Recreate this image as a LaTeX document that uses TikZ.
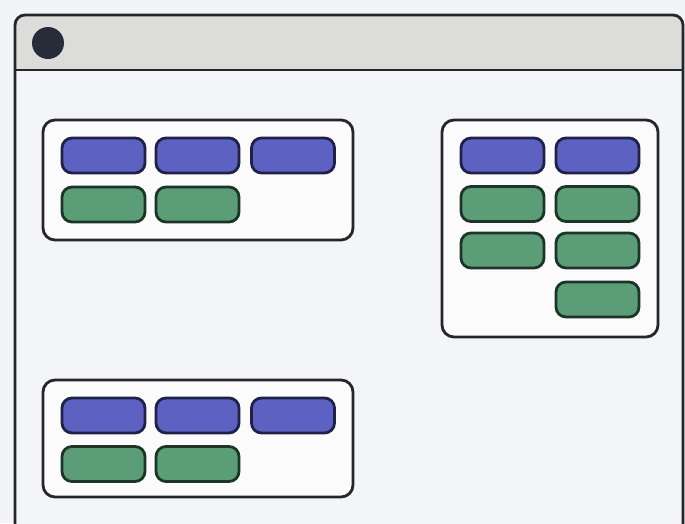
\documentclass[tikz,border=0pt]{standalone}
\usepackage{tikz}

\definecolor{pageback}{HTML}{F3F4F7}
\definecolor{winback}{HTML}{F4F5F8}
\definecolor{titlefill}{HTML}{DCDCDA}
\definecolor{frameline}{HTML}{24262A}
\definecolor{dotfill}{HTML}{272C38}
\definecolor{bluefill}{HTML}{5D61C2}
\definecolor{blueline}{HTML}{1F2148}
\definecolor{greenfill}{HTML}{5B9D77}
\definecolor{greenline}{HTML}{1D3428}

\tikzset{
  group/.style={draw=frameline,line width=2.8pt,fill=white!60!winback,
    rounded corners=12pt,inner sep=0pt},
  bluepill/.style={draw=blueline,line width=2.8pt,fill=bluefill,
    rounded corners=10pt,minimum width=83pt,minimum height=35pt,inner sep=0pt},
  greenpill/.style={bluepill,draw=greenline,fill=greenfill}
}

\begin{document}
\begin{tikzpicture}[x=1pt,y=-1pt,line join=round]
    \useasboundingbox (0,0) rectangle (685,523) ;
    \clip (0,0) rectangle (685,523) ;
    \fill [pageback] (0,0) rectangle (685,523) ;

    % window with title bar
    \def\winshape{(15,15) rectangle (683,560)}
    \fill [winback,rounded corners=10pt] \winshape ;
    \begin{scope}
      \clip [rounded corners=10pt] \winshape ;
      \fill [titlefill] (15,15) rectangle (683,70) ;
    \end{scope}
    \draw [frameline,line width=2.8pt,rounded corners=10pt] \winshape ;
    \draw [frameline,line width=2.8pt] (15,70) -- (683,70) ;
    \node [circle,fill=dotfill,minimum size=32pt,inner sep=0pt] (close) at (48,43) {} ;

    % top left group
    \node [group,minimum width=310pt,minimum height=120pt] (topgrp) at (198,180) {} ;
    \foreach \x/\i in {103.5/1,197.5/2,293/3}
      \node [bluepill] (tb\i) at (\x,155.5) {} ;
    \foreach \x/\i in {103.5/1,197.5/2}
      \node [greenpill] (tg\i) at (\x,204.5) {} ;

    % right group
    \node [group,minimum width=216pt,minimum height=217pt] (sidegrp) at (550,228.5) {} ;
    \node [bluepill] (sb1) at (502.5,155.5) {} ;
    \node [bluepill] (sb2) at (597.5,155.5) {} ;
    \node [greenpill] (sg1) at (502.5,204) {} ;
    \node [greenpill] (sg2) at (597.5,204) {} ;
    \node [greenpill] (sg3) at (502.5,250.5) {} ;
    \node [greenpill] (sg4) at (597.5,250.5) {} ;
    \node [greenpill] (sg5) at (597.5,299.5) {} ;

    % bottom left group
    \node [group,minimum width=310pt,minimum height=117pt] (botgrp) at (198,438.5) {} ;
    \foreach \x/\i in {103.5/1,197.5/2,293/3}
      \node [bluepill] (bb\i) at (\x,415.5) {} ;
    \foreach \x/\i in {103.5/1,197.5/2}
      \node [greenpill] (bg\i) at (\x,464) {} ;
\end{tikzpicture}
\end{document}
